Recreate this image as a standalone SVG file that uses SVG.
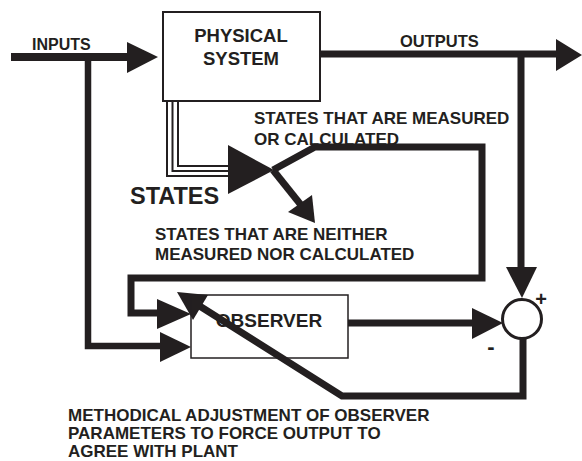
<svg xmlns="http://www.w3.org/2000/svg" width="582" height="461" viewBox="0 0 582 461">
<style>
  text { font-family: "Liberation Sans", Arial, sans-serif; font-weight: bold; fill: #231f20; }
  .lbl { font-size: 17px; }
  .box { fill: #ffffff; stroke: #231f20; }
  .thick { fill: none; stroke: #231f20; stroke-width: 7; stroke-linejoin: miter; }
  .thin3 { fill: none; stroke: #231f20; stroke-width: 2; }
  .head { fill: #231f20; stroke: none; }
</style>
<rect width="582" height="461" fill="#ffffff"/>

<g id="connectors">
  <!-- inputs -->
  <line class="thick" x1="11" y1="57" x2="130" y2="57" style="stroke-width:8"/>
  <polygon class="head" points="127,42 158,57 127,73"/>
  <polyline class="thick" points="88,57 88,346 162,346" style="stroke-width:6.5"/>
  <polygon class="head" points="160,332 191,347 160,362"/>
  <!-- outputs -->
  <line class="thick" x1="320" y1="54" x2="558" y2="54"/>
  <polygon class="head" points="556,39 582,55 556,71"/>
  <line class="thick" x1="521" y1="54" x2="521" y2="270"/>
  <polygon class="head" points="506,267 537,267 522,298"/>
  <!-- states triple lines -->
  <polyline class="thin3" points="178,101 178,166 230,166"/>
  <polyline class="thin3" points="172.5,101 172.5,171 230,171"/>
  <polyline class="thin3" points="167,101 167,176 230,176"/>
  <polygon class="head" points="228,145 274,170 228,194"/>
  <!-- measured states loop -->
  <polyline class="thick" points="273,170 315,147 482,147 482,278 131,278 131,313 160,313"/>
  <polygon class="head" points="157,299 191,314 157,329"/>
  <!-- unmeasured states -->
  <line class="thick" x1="273" y1="170" x2="301" y2="205"/>
  <polygon class="head" points="288,212 312,195 315,223"/>
  <!-- observer to sum -->
  <line class="thick" x1="348" y1="323" x2="475" y2="323"/>
  <polygon class="head" points="472,308 503,323 472,339"/>
  <!-- feedback -->
  <polyline class="thick" points="523,339 523,396 342,396 198,305"/>
  <polygon class="head" points="177,292 208,295 193,320"/>
</g>

<g id="physical-system">
  <rect class="box" x="163" y="12" width="157" height="89" style="stroke-width:2"/>
  <text x="241" y="42" font-size="18.5" text-anchor="middle">PHYSICAL</text>
  <text x="241" y="65" font-size="18.5" text-anchor="middle">SYSTEM</text>
</g>

<g id="observer">
  <rect class="box" x="191" y="295" width="157" height="63" style="stroke-width:1.5;fill:none"/>
  <text x="269" y="327" font-size="19" text-anchor="middle">OBSERVER</text>
</g>

<g id="summing-junction">
  <circle cx="522" cy="319" r="19.5" fill="#ffffff" stroke="#231f20" stroke-width="3"/>
  <text x="541" y="306" font-size="20" text-anchor="middle">+</text>
  <text x="491" y="354" font-size="22" text-anchor="middle">-</text>
</g>

<g id="labels">
  <text x="32" y="50" font-size="16">INPUTS</text>
  <text x="400" y="47" font-size="16.5">OUTPUTS</text>
  <text x="130" y="204" font-size="23.5">STATES</text>
  <text class="lbl" x="254" y="124">STATES THAT ARE MEASURED</text>
  <text class="lbl" x="254" y="145">OR CALCULATED</text>
  <text class="lbl" x="155" y="240">STATES THAT ARE NEITHER</text>
  <text class="lbl" x="155" y="260">MEASURED NOR CALCULATED</text>
  <text class="lbl" x="68" y="421">METHODICAL ADJUSTMENT OF OBSERVER</text>
  <text class="lbl" x="68" y="439">PARAMETERS TO FORCE OUTPUT TO</text>
  <text class="lbl" x="68" y="457">AGREE WITH PLANT</text>
</g>
</svg>
